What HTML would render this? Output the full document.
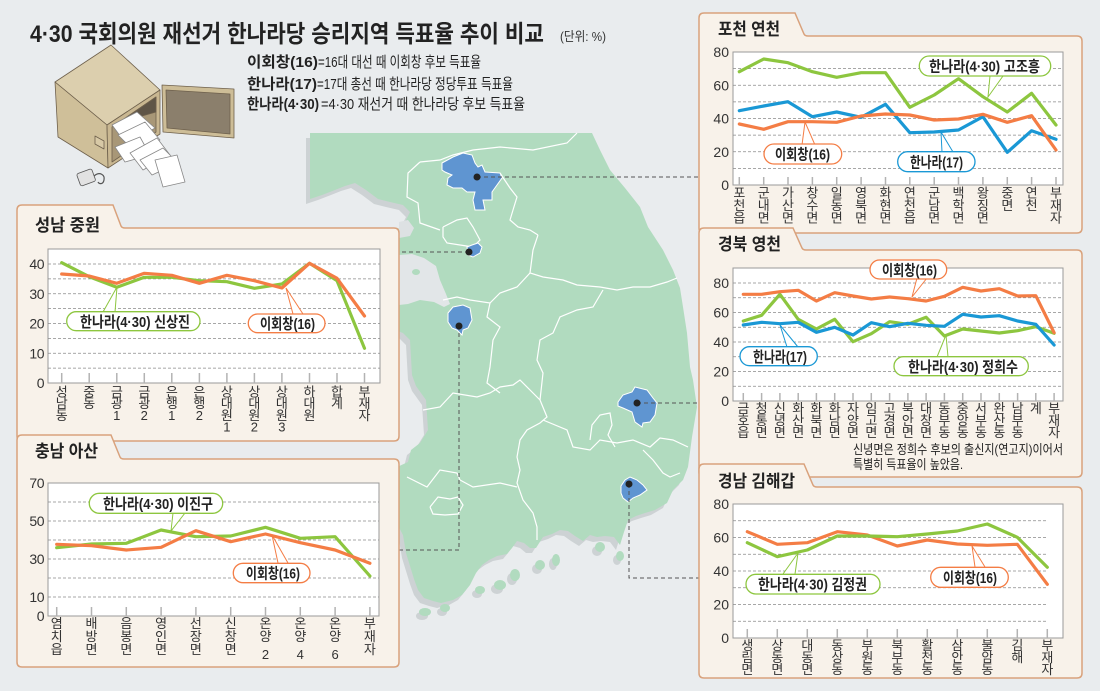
<!DOCTYPE html>
<html><head><meta charset="utf-8">
<style>
html,body{margin:0;padding:0;background:#e9ecee;}
svg{display:block;font-family:"Liberation Sans","Noto Sans CJK KR",sans-serif;}
.grid{stroke:#8a8a8a;stroke-width:0.8;stroke-dasharray:3 2;fill:none}
.tick{stroke:#b3b3b3;stroke-width:1.5}
.yl{font-size:14px;text-anchor:end;fill:#333}
.xl{font-size:13px;text-anchor:middle;fill:#333}
.pt{font-size:15px;font-weight:bold;fill:#222}
.ttl{font-size:17px;font-weight:bold;fill:#222}
.g{stroke:#8dc63f;stroke-width:3.2;fill:none;stroke-linejoin:round;stroke-linecap:round}
.o{stroke:#f47d45;stroke-width:3.2;fill:none;stroke-linejoin:round;stroke-linecap:round}
.b{stroke:#1a98d5;stroke-width:3.2;fill:none;stroke-linejoin:round;stroke-linecap:round}
.pan{fill:#f8f2ea;stroke:#d9a27c;stroke-width:1.5}
.plot{fill:#fff;stroke:#9a9a9a;stroke-width:1}
.wl{stroke:#fff;stroke-width:1.2;fill:none}
.lead{stroke:#555;stroke-width:1;stroke-dasharray:4 3;fill:none}
</style></head>
<body>
<svg width="1100" height="691" viewBox="0 0 1100 691" xmlns="http://www.w3.org/2000/svg">
<rect x="0" y="0" width="1100" height="691" fill="#e9ecee"/>

<!-- ===== MAP ===== -->
<g>
<path transform="translate(-4,5)" fill="#cdd2d4" d="M310,133 L592,133 L600,150 L610,170 L625,188 L640,207 L648,227 L663,250 L673,270 L680,288 L683,307 L687,333 L690,367 L693,380 L697,407 L694,425 L692,437 L688,467 L683,480 L673,490 L667,503 L655,510 L645,513 L636,516 L628,520 L624,532 L620,545 L614,537 L605,536 L597,537 L590,535 L583,541 L575,536 L568,531 L560,530 L552,534 L543,537 L536,548 L530,548 L524,543 L517,541 L512,548 L507,554 L497,556 L489,560 L482,565 L476,573 L470,585 L462,595 L453,600 L441,603 L433,601 L424,598 L418,590 L414,579 L410,566 L406,553 L403,535 L395,520 L395,468 L408,462 L411,450 L420,443 L428,430 L426,400 L416,386 L412,375 L410,340 L403,333 L395,330 L395,232 L405,222 L410,212 L403,205 L390,202 L378,199 L366,190 L355,183 L345,186 L335,190 L322,195 L310,199 Z"/>
<g fill="#cdd2d4" transform="translate(-3,4)">
<ellipse cx="445" cy="608" rx="5" ry="4"/><ellipse cx="425" cy="612" rx="6" ry="4"/>
<ellipse cx="480" cy="590" rx="5" ry="4"/><ellipse cx="500" cy="585" rx="6" ry="5"/>
<ellipse cx="515" cy="575" rx="5" ry="6"/><ellipse cx="540" cy="565" rx="5" ry="5"/>
<ellipse cx="556" cy="560" rx="4" ry="6"/><ellipse cx="600" cy="547" rx="5" ry="5"/>
<ellipse cx="620" cy="556" rx="4" ry="5"/>
</g>
<path fill="#b1dbbf" d="M310,133 L592,133 L600,150 L610,170 L625,188 L640,207 L648,227 L663,250 L673,270 L680,288 L683,307 L687,333 L690,367 L693,380 L697,407 L694,425 L692,437 L688,467 L683,480 L673,490 L667,503 L655,510 L645,513 L636,516 L628,520 L624,532 L620,545 L614,537 L605,536 L597,537 L590,535 L583,541 L575,536 L568,531 L560,530 L552,534 L543,537 L536,548 L530,548 L524,543 L517,541 L512,548 L507,554 L497,556 L489,560 L482,565 L476,573 L470,585 L462,595 L453,600 L441,603 L433,601 L424,598 L418,590 L414,579 L410,566 L406,553 L403,535 L395,520 L395,468 L408,462 L411,450 L420,443 L428,430 L426,400 L416,386 L412,375 L410,340 L403,333 L395,330 L395,232 L405,222 L410,212 L403,205 L390,202 L378,199 L366,190 L355,183 L345,186 L335,190 L322,195 L310,199 Z"/>
<g fill="#b1dbbf">
<ellipse cx="445" cy="608" rx="5" ry="4"/><ellipse cx="425" cy="612" rx="6" ry="4"/>
<ellipse cx="480" cy="590" rx="5" ry="4"/><ellipse cx="500" cy="585" rx="6" ry="5"/>
<ellipse cx="515" cy="575" rx="5" ry="6"/><ellipse cx="540" cy="565" rx="5" ry="5"/>
<ellipse cx="556" cy="560" rx="4" ry="6"/><ellipse cx="600" cy="547" rx="5" ry="5"/>
<ellipse cx="620" cy="556" rx="4" ry="5"/>
</g>
<path fill="#e2e6e8" d="M399,255 L412,254 L424,258 L436,266 L440,280 L446,294 L450,304 L444,307 L434,302 L420,300 L408,304 L399,305 Z"/>
<ellipse cx="416" cy="272" rx="4" ry="3" fill="#b1dbbf"/>
<path fill="#dde1e3" d="M399,222 L408,220 L414,228 L410,236 L399,238 Z"/>
<polyline class="wl" points="420,162 440,160 453,155 473,150 500,147 533,150 567,143 577,133"/>
<polyline class="wl" points="420,162 408,173 407,197 418,203 420,223 440,230"/>
<polyline class="wl" points="500,173 510,188 517,197 513,210 510,220 518,227 530,230 538,235"/>
<polyline class="wl" points="538,235 533,250 530,273 543,277 563,280 577,285 600,287 617,290 633,287 650,287 667,282 677,278"/>
<polyline class="wl" points="530,273 517,287 500,293 490,303 470,300 457,297 443,300"/>
<polyline class="wl" points="603,290 593,307 577,310 560,317 553,333 540,340 537,360 543,373 540,400"/>
<polyline class="wl" points="490,303 487,317 500,327 493,340 490,367 487,383 500,393"/>
<polyline class="wl" points="443,227 457,220 467,218 473,227 480,240 473,247 460,245 447,243 443,237 443,227"/>
<polyline class="wl" points="423,410 440,407 453,393 477,397 490,393 500,387 513,385 520,380 540,400"/>
<polyline class="wl" points="540,400 547,417 540,423 527,430 520,440 517,457 520,470 517,483 523,500 533,513 537,527 537,540"/>
<polyline class="wl" points="407,477 427,487 440,470 457,473 460,480 473,487 500,483 517,487"/>
<polyline class="wl" points="430,507 438,497 450,499 458,497 463,505 458,514 445,515 433,514 430,507"/>
<polyline class="wl" points="543,420 567,430 573,447 590,450 600,440 617,443 633,440 650,447 660,438 673,440 688,447"/>
<polyline class="wl" points="590,440 592,425 600,415 610,413 612,425 608,435 615,447"/>
<polyline class="wl" points="643,450 653,460 663,473 670,477 680,473"/>
<g fill="#5f95d1" stroke="#fff" stroke-width="1">
<path d="M442,163 L453,157 L463,153 L472,155 L475,163 L478,167 L482,165 L485,172 L500,173 L502,178 L497,185 L492,192 L492,200 L483,200 L485,210 L475,210 L473,200 L475,192 L467,192 L462,188 L453,188 L447,185 L448,178 L452,175 L445,172 L442,170 Z"/>
<path d="M467,247 L472,245 L478,243 L482,247 L480,253 L473,257 L468,255 Z"/>
<path d="M448,313 L453,307 L463,305 L470,308 L472,320 L468,328 L463,330 L462,335 L457,330 L452,328 L448,322 Z"/>
<path d="M618,402 L623,395 L632,392 L635,387 L647,390 L653,398 L657,403 L655,415 L650,422 L643,423 L642,427 L635,422 L632,412 L623,408 L618,406 Z"/>
<path d="M621,486 L625,480 L630,477 L637,480 L643,485 L647,490 L640,495 L633,498 L628,502 L623,498 L621,493 Z"/>
</g>
<polyline class="lead" points="477,177 700,177"/>
<polyline class="lead" points="469,252 399,252"/>
<polyline class="lead" points="459,326 459,550 399,550"/>
<polyline class="lead" points="637,403 700,403"/>
<polyline class="lead" points="629,484 629,578 700,578"/>
<g fill="#222">
<circle cx="477" cy="177" r="3.5"/><circle cx="469" cy="252" r="3.5"/><circle cx="459" cy="326" r="3.5"/>
<circle cx="637" cy="403" r="3.5"/><circle cx="629" cy="484" r="3.5"/>
</g>
</g>

<!-- ===== TITLE & LEGEND ===== -->
<text x="30" y="42" font-size="24" font-weight="bold" fill="#222" textLength="514" lengthAdjust="spacingAndGlyphs">4·30 국회의원 재선거 한나라당 승리지역 득표율 추이 비교</text>
<text x="560" y="41" font-size="13" fill="#333" textLength="46" lengthAdjust="spacingAndGlyphs">(단위: %)</text>
<text x="247" y="67" font-size="15" font-weight="bold" fill="#222" textLength="71" lengthAdjust="spacingAndGlyphs">이회창(16)</text>
<text x="318" y="67" font-size="15" fill="#222" textLength="163" lengthAdjust="spacingAndGlyphs">=16대 대선 때 이회창 후보 득표율</text>
<text x="247" y="89" font-size="15" font-weight="bold" fill="#222" textLength="70" lengthAdjust="spacingAndGlyphs">한나라(17)</text>
<text x="317" y="89" font-size="15" fill="#222" textLength="196" lengthAdjust="spacingAndGlyphs">=17대 총선 때 한나라당 정당투표 득표율</text>
<text x="247" y="109" font-size="15" font-weight="bold" fill="#222" textLength="72" lengthAdjust="spacingAndGlyphs">한나라(4·30)</text>
<text x="321" y="109" font-size="15" fill="#222" textLength="204" lengthAdjust="spacingAndGlyphs">=4·30 재선거 때 한나라당 후보 득표율</text>

<!-- ===== BALLOT BOX ===== -->
<g stroke="#6e604c" stroke-width="0.8" stroke-linejoin="round">
<polygon points="55,82 111,45 160,90 107,125" fill="#dccfae"/>
<polygon points="55,82 107,125 108,168 58,137" fill="#cfbf99"/>
<polygon points="107,125 160,90 160,134 108,168" fill="#c9b791"/>
<polygon points="112,127 156,97 156,132 112,162" fill="#a89777"/>
<polygon points="120,122 156,97 156,112 135,118" fill="#5f5547"/>
<polygon points="162,85 234,89 234,138 163,132" fill="#cdbd97"/>
<polygon points="166,90 230,94 230,134 167,128" fill="#8b7f6c"/>
<polygon points="95,136 104,141 104,149 95,144" fill="#d8c9a6"/>
<g fill="#fff" stroke="#888">
<polygon points="112,125 137,112 155,128 127,145"/>
<polygon points="118,135 145,122 160,140 133,150"/>
<polygon points="115,147 140,137 150,155 125,162"/>
<polygon points="130,153 157,138 170,155 143,170"/>
<polygon points="140,160 163,148 178,163 152,175"/>
<polygon points="155,160 177,155 185,182 163,187"/>
</g>
<rect x="78" y="171" width="16" height="13" rx="2" fill="#e2e2e2" stroke="#555" transform="rotate(-20 86 177)"/>
<path d="M94,176 C100,171 105,175 104,180 C103,185 99,184 98,182" fill="none" stroke="#555" stroke-width="1.2"/>
</g>

<!-- ===== PANEL: 포천 연천 ===== -->
<path class="pan" d="M699,18 Q699,13 704,13 L795,13 L804,34 Q805,36 808,36 L1077,36 Q1082,36 1082,41 L1082,228 Q1082,233 1077,233 L704,233 Q699,233 699,228 Z"/>
<text class="ttl" x="718" y="35" textLength="62" lengthAdjust="spacingAndGlyphs">포천 연천</text>
<rect class="plot" x="733" y="52" width="330" height="133"/>
<g class="grid">
<line x1="733" y1="68.6" x2="1063" y2="68.6"/><line x1="733" y1="85.25" x2="1063" y2="85.25"/>
<line x1="733" y1="101.9" x2="1063" y2="101.9"/><line x1="733" y1="118.5" x2="1063" y2="118.5"/>
<line x1="733" y1="135.1" x2="1063" y2="135.1"/><line x1="733" y1="151.75" x2="1063" y2="151.75"/>
<line x1="733" y1="168.4" x2="1063" y2="168.4"/>
</g>
<g class="tick">
<line x1="739.3" y1="177" x2="739.3" y2="185"/><line x1="763.7" y1="177" x2="763.7" y2="185"/><line x1="788" y1="177" x2="788" y2="185"/><line x1="812.4" y1="177" x2="812.4" y2="185"/><line x1="836.7" y1="177" x2="836.7" y2="185"/><line x1="861.1" y1="177" x2="861.1" y2="185"/><line x1="885.5" y1="177" x2="885.5" y2="185"/><line x1="909.8" y1="177" x2="909.8" y2="185"/><line x1="934.2" y1="177" x2="934.2" y2="185"/><line x1="958.5" y1="177" x2="958.5" y2="185"/><line x1="982.9" y1="177" x2="982.9" y2="185"/><line x1="1007.3" y1="177" x2="1007.3" y2="185"/><line x1="1031.6" y1="177" x2="1031.6" y2="185"/><line x1="1056" y1="177" x2="1056" y2="185"/>
</g>
<text class="yl" x="729" y="57">80</text><text class="yl" x="729" y="90.3">60</text><text class="yl" x="729" y="123.5">40</text><text class="yl" x="729" y="156.8">20</text><text class="yl" x="729" y="190">0</text>
<polyline class="g" points="739.3,71.7 763.7,59.0 788.0,62.7 812.4,71.7 836.7,77.3 861.1,72.7 885.5,72.7 909.8,107.3 934.2,95.0 958.5,78.7 982.9,96.7 1007.3,112.0 1031.6,93.3 1056.0,125.0"/>
<polyline class="b" points="739.3,110.7 763.7,106.0 788.0,101.7 812.4,116.7 836.7,112.0 861.1,117.3 885.5,104.3 909.8,132.7 934.2,132.0 958.5,130.0 982.9,116.7 1007.3,152.3 1031.6,130.7 1056.0,139.3"/>
<polyline class="o" points="739.3,124.0 763.7,129.3 788.0,121.7 812.4,121.7 836.7,122.3 861.1,116.0 885.5,114.0 909.8,115.0 934.2,120.0 958.5,119.0 982.9,114.3 1007.3,122.3 1031.6,115.7 1056.0,150.0"/>
<g class="xl">
<text><tspan x="739.3" y="197.5">포</tspan><tspan x="739.3" y="210">천</tspan><tspan x="739.3" y="222.5">읍</tspan></text>
<text><tspan x="763.7" y="197.5">군</tspan><tspan x="763.7" y="210">내</tspan><tspan x="763.7" y="222.5">면</tspan></text>
<text><tspan x="788" y="197.5">가</tspan><tspan x="788" y="210">산</tspan><tspan x="788" y="222.5">면</tspan></text>
<text><tspan x="812.4" y="197.5">창</tspan><tspan x="812.4" y="210">수</tspan><tspan x="812.4" y="222.5">면</tspan></text>
<text><tspan x="836.7" y="197.5">일</tspan><tspan x="836.7" y="210">동</tspan><tspan x="836.7" y="222.5">면</tspan></text>
<text><tspan x="861.1" y="197.5">영</tspan><tspan x="861.1" y="210">북</tspan><tspan x="861.1" y="222.5">면</tspan></text>
<text><tspan x="885.5" y="197.5">화</tspan><tspan x="885.5" y="210">현</tspan><tspan x="885.5" y="222.5">면</tspan></text>
<text><tspan x="909.8" y="197.5">연</tspan><tspan x="909.8" y="210">천</tspan><tspan x="909.8" y="222.5">읍</tspan></text>
<text><tspan x="934.2" y="197.5">군</tspan><tspan x="934.2" y="210">남</tspan><tspan x="934.2" y="222.5">면</tspan></text>
<text><tspan x="958.5" y="197.5">백</tspan><tspan x="958.5" y="210">학</tspan><tspan x="958.5" y="222.5">면</tspan></text>
<text><tspan x="982.9" y="197.5">왕</tspan><tspan x="982.9" y="210">징</tspan><tspan x="982.9" y="222.5">면</tspan></text>
<text><tspan x="1007.3" y="197.5">중</tspan><tspan x="1007.3" y="210">면</tspan></text>
<text><tspan x="1031.6" y="197.5">연</tspan><tspan x="1031.6" y="210">천</tspan></text>
<text><tspan x="1056" y="197.5">부</tspan><tspan x="1056" y="210">재</tspan><tspan x="1056" y="222.5">자</tspan></text>
</g>
<polyline points="990,76 988,97 1003,76" fill="#fff" stroke="#8dc63f" stroke-width="1"/>
<polyline points="802,145 805,122 815,145" fill="#fff" stroke="#f47d45" stroke-width="1"/>
<polyline points="942,152 941,132 953,152" fill="#fff" stroke="#1a98d5" stroke-width="1"/>
<rect x="919.3" y="56" width="131.4" height="20" rx="10" fill="#fff" stroke="#8dc63f" stroke-width="1.3"/>
<text class="pt" x="929" y="71.5" textLength="111" lengthAdjust="spacingAndGlyphs">한나라(4·30) 고조흥</text>
<rect x="764" y="144" width="77.7" height="20" rx="10" fill="#fff" stroke="#f47d45" stroke-width="1.3"/>
<text class="pt" x="775" y="159.5" textLength="55" lengthAdjust="spacingAndGlyphs">이회창(16)</text>
<rect x="897.7" y="151.7" width="77.3" height="20" rx="10" fill="#fff" stroke="#1a98d5" stroke-width="1.3"/>
<text class="pt" x="910" y="167.3" textLength="53" lengthAdjust="spacingAndGlyphs">한나라(17)</text>

<!-- ===== PANEL: 경북 영천 ===== -->
<path class="pan" d="M699,233 Q699,228 704,228 L793,228 L802,248 Q803,250 806,250 L1077,250 Q1082,250 1082,255 L1082,472 Q1082,477 1077,477 L704,477 Q699,477 699,472 Z"/>
<text class="ttl" x="718" y="250" textLength="63" lengthAdjust="spacingAndGlyphs">경북 영천</text>
<rect class="plot" x="733" y="268" width="330" height="133"/>
<g class="grid">
<line x1="733" y1="283" x2="1063" y2="283"/><line x1="733" y1="297.75" x2="1063" y2="297.75"/>
<line x1="733" y1="312.5" x2="1063" y2="312.5"/><line x1="733" y1="327.25" x2="1063" y2="327.25"/>
<line x1="733" y1="342" x2="1063" y2="342"/><line x1="733" y1="356.75" x2="1063" y2="356.75"/>
<line x1="733" y1="371.5" x2="1063" y2="371.5"/><line x1="733" y1="386.25" x2="1063" y2="386.25"/>
</g>
<g class="tick">
<line x1="743.3" y1="393" x2="743.3" y2="401"/><line x1="761.6" y1="393" x2="761.6" y2="401"/><line x1="779.9" y1="393" x2="779.9" y2="401"/><line x1="798.2" y1="393" x2="798.2" y2="401"/><line x1="816.4" y1="393" x2="816.4" y2="401"/><line x1="834.7" y1="393" x2="834.7" y2="401"/><line x1="853" y1="393" x2="853" y2="401"/><line x1="871.3" y1="393" x2="871.3" y2="401"/><line x1="889.6" y1="393" x2="889.6" y2="401"/><line x1="907.9" y1="393" x2="907.9" y2="401"/><line x1="926.1" y1="393" x2="926.1" y2="401"/><line x1="944.4" y1="393" x2="944.4" y2="401"/><line x1="962.7" y1="393" x2="962.7" y2="401"/><line x1="981" y1="393" x2="981" y2="401"/><line x1="999.3" y1="393" x2="999.3" y2="401"/><line x1="1017.6" y1="393" x2="1017.6" y2="401"/><line x1="1035.8" y1="393" x2="1035.8" y2="401"/><line x1="1054.1" y1="393" x2="1054.1" y2="401"/>
</g>
<text class="yl" x="729" y="288">80</text><text class="yl" x="729" y="317.5">60</text><text class="yl" x="729" y="347">40</text><text class="yl" x="729" y="376.5">20</text><text class="yl" x="729" y="406">0</text>
<polyline class="g" points="743.3,321.0 761.6,315.3 779.9,294.3 798.2,319.3 816.4,329.0 834.7,319.3 853.0,341.7 871.3,333.7 889.6,321.7 907.9,324.3 926.1,317.3 944.4,336.0 962.7,329.0 981.0,331.0 999.3,333.0 1017.6,330.7 1035.8,326.7 1054.1,333.3"/>
<polyline class="b" points="743.3,325.0 761.6,322.3 779.9,323.7 798.2,322.3 816.4,332.3 834.7,327.3 853.0,335.0 871.3,322.7 889.6,326.7 907.9,323.3 926.1,325.3 944.4,326.3 962.7,314.3 981.0,317.0 999.3,315.7 1017.6,321.0 1035.8,324.3 1054.1,345.0"/>
<polyline class="o" points="743.3,294.3 761.6,294.3 779.9,291.7 798.2,290.3 816.4,301.0 834.7,292.7 853.0,296.0 871.3,299.0 889.6,297.0 907.9,298.7 926.1,301.0 944.4,296.3 962.7,287.3 981.0,291.0 999.3,288.7 1017.6,296.0 1035.8,295.7 1054.1,332.7"/>
<g class="xl">
<text><tspan x="743.3" y="413">금</tspan><tspan x="743.3" y="425">호</tspan><tspan x="743.3" y="437">읍</tspan></text>
<text><tspan x="761.6" y="413">청</tspan><tspan x="761.6" y="425">통</tspan><tspan x="761.6" y="437">면</tspan></text>
<text><tspan x="779.9" y="413">신</tspan><tspan x="779.9" y="425">녕</tspan><tspan x="779.9" y="437">면</tspan></text>
<text><tspan x="798.2" y="413">화</tspan><tspan x="798.2" y="425">산</tspan><tspan x="798.2" y="437">면</tspan></text>
<text><tspan x="816.4" y="413">화</tspan><tspan x="816.4" y="425">북</tspan><tspan x="816.4" y="437">면</tspan></text>
<text><tspan x="834.7" y="413">화</tspan><tspan x="834.7" y="425">남</tspan><tspan x="834.7" y="437">면</tspan></text>
<text><tspan x="853" y="413">자</tspan><tspan x="853" y="425">양</tspan><tspan x="853" y="437">면</tspan></text>
<text><tspan x="871.3" y="413">임</tspan><tspan x="871.3" y="425">고</tspan><tspan x="871.3" y="437">면</tspan></text>
<text><tspan x="889.6" y="413">고</tspan><tspan x="889.6" y="425">경</tspan><tspan x="889.6" y="437">면</tspan></text>
<text><tspan x="907.9" y="413">북</tspan><tspan x="907.9" y="425">안</tspan><tspan x="907.9" y="437">면</tspan></text>
<text><tspan x="926.1" y="413">대</tspan><tspan x="926.1" y="425">창</tspan><tspan x="926.1" y="437">면</tspan></text>
<text><tspan x="944.4" y="413">동</tspan><tspan x="944.4" y="425">부</tspan><tspan x="944.4" y="437">동</tspan></text>
<text><tspan x="962.7" y="413">중</tspan><tspan x="962.7" y="425">앙</tspan><tspan x="962.7" y="437">동</tspan></text>
<text><tspan x="981" y="413">서</tspan><tspan x="981" y="425">부</tspan><tspan x="981" y="437">동</tspan></text>
<text><tspan x="999.3" y="413">완</tspan><tspan x="999.3" y="425">산</tspan><tspan x="999.3" y="437">동</tspan></text>
<text><tspan x="1017.6" y="413">남</tspan><tspan x="1017.6" y="425">부</tspan><tspan x="1017.6" y="437">동</tspan></text>
<text><tspan x="1035.8" y="413">계</tspan></text>
<text><tspan x="1054.1" y="413">부</tspan><tspan x="1054.1" y="425">재</tspan><tspan x="1054.1" y="437">자</tspan></text>
</g>
<text x="853" y="454" font-size="13" fill="#222" textLength="210" lengthAdjust="spacingAndGlyphs">신녕면은 정희수 후보의 출신지(연고지)이어서</text>
<text x="853" y="469" font-size="13" fill="#222" textLength="110" lengthAdjust="spacingAndGlyphs">특별히 득표율이 높았음.</text>
<polyline points="917,278 912,297 927,278" fill="#fff" stroke="#f47d45" stroke-width="1"/>
<polyline points="787,347 780,325 798,347" fill="#fff" stroke="#1a98d5" stroke-width="1"/>
<polyline points="937,357 946,335 948,357" fill="#fff" stroke="#8dc63f" stroke-width="1"/>
<rect x="870" y="260" width="76.7" height="19" rx="9.5" fill="#fff" stroke="#f47d45" stroke-width="1.3"/>
<text class="pt" x="882" y="275.3" textLength="55" lengthAdjust="spacingAndGlyphs">이회창(16)</text>
<rect x="740" y="346.7" width="77.3" height="19" rx="9.5" fill="#fff" stroke="#1a98d5" stroke-width="1.3"/>
<text class="pt" x="753" y="361.8" textLength="54" lengthAdjust="spacingAndGlyphs">한나라(17)</text>
<rect x="894" y="356.7" width="134.3" height="19" rx="9.5" fill="#fff" stroke="#8dc63f" stroke-width="1.3"/>
<text class="pt" x="908" y="371.8" textLength="110" lengthAdjust="spacingAndGlyphs">한나라(4·30) 정희수</text>

<!-- ===== PANEL: 경남 김해갑 ===== -->
<path class="pan" d="M699,469 Q699,464 704,464 L804,464 L813,485 Q814,487 817,487 L1077,487 Q1082,487 1082,492 L1082,673 Q1082,678 1077,678 L704,678 Q699,678 699,673 Z"/>
<text class="ttl" x="718" y="487" textLength="77" lengthAdjust="spacingAndGlyphs">경남 김해갑</text>
<rect class="plot" x="733" y="504" width="330" height="134"/>
<g class="grid">
<line x1="733" y1="520.75" x2="1046" y2="520.75"/><line x1="733" y1="537.5" x2="1046" y2="537.5"/>
<line x1="733" y1="554.25" x2="1046" y2="554.25"/><line x1="733" y1="571" x2="1046" y2="571"/>
<line x1="733" y1="587.75" x2="1046" y2="587.75"/><line x1="733" y1="604.5" x2="1046" y2="604.5"/>
<line x1="733" y1="621.25" x2="1046" y2="621.25"/>
</g>
<g class="tick">
<line x1="747.3" y1="629" x2="747.3" y2="638"/><line x1="777.3" y1="629" x2="777.3" y2="638"/><line x1="807.3" y1="629" x2="807.3" y2="638"/><line x1="837.3" y1="629" x2="837.3" y2="638"/><line x1="867.3" y1="629" x2="867.3" y2="638"/><line x1="897.3" y1="629" x2="897.3" y2="638"/><line x1="927.3" y1="629" x2="927.3" y2="638"/><line x1="957.3" y1="629" x2="957.3" y2="638"/><line x1="987.3" y1="629" x2="987.3" y2="638"/><line x1="1017.3" y1="629" x2="1017.3" y2="638"/><line x1="1047.3" y1="629" x2="1047.3" y2="638"/>
</g>
<text class="yl" x="729" y="509">80</text><text class="yl" x="729" y="542.5">60</text><text class="yl" x="729" y="576">40</text><text class="yl" x="729" y="609.5">20</text><text class="yl" x="729" y="643">0</text>
<polyline class="o" points="747.3,531.7 777.3,544.3 807.3,542.7 837.3,531.7 867.3,535.0 897.3,546.0 927.3,540.0 957.3,544.0 987.3,545.3 1017.3,544.3 1047.3,584.3"/>
<polyline class="g" points="747.3,542.7 777.3,556.7 807.3,550.0 837.3,536.0 867.3,536.0 897.3,536.7 927.3,534.0 957.3,531.0 987.3,524.0 1017.3,537.3 1047.3,567.3"/>
<g class="xl">
<text><tspan x="747.3" y="650">생</tspan><tspan x="747.3" y="662">림</tspan><tspan x="747.3" y="674">면</tspan></text>
<text><tspan x="777.3" y="650">상</tspan><tspan x="777.3" y="662">동</tspan><tspan x="777.3" y="674">면</tspan></text>
<text><tspan x="807.3" y="650">대</tspan><tspan x="807.3" y="662">동</tspan><tspan x="807.3" y="674">면</tspan></text>
<text><tspan x="837.3" y="650">동</tspan><tspan x="837.3" y="662">상</tspan><tspan x="837.3" y="674">동</tspan></text>
<text><tspan x="867.3" y="650">부</tspan><tspan x="867.3" y="662">원</tspan><tspan x="867.3" y="674">동</tspan></text>
<text><tspan x="897.3" y="650">북</tspan><tspan x="897.3" y="662">부</tspan><tspan x="897.3" y="674">동</tspan></text>
<text><tspan x="927.3" y="650">활</tspan><tspan x="927.3" y="662">천</tspan><tspan x="927.3" y="674">동</tspan></text>
<text><tspan x="957.3" y="650">삼</tspan><tspan x="957.3" y="662">안</tspan><tspan x="957.3" y="674">동</tspan></text>
<text><tspan x="987.3" y="650">불</tspan><tspan x="987.3" y="662">암</tspan><tspan x="987.3" y="674">동</tspan></text>
<text><tspan x="1017.3" y="650">김</tspan><tspan x="1017.3" y="662">해</tspan></text>
<text><tspan x="1047.3" y="650">부</tspan><tspan x="1047.3" y="662">재</tspan><tspan x="1047.3" y="674">자</tspan></text>
</g>
<polyline points="783,574 798,553 795,574" fill="#fff" stroke="#8dc63f" stroke-width="1"/>
<polyline points="975,567 972,546 985,567" fill="#fff" stroke="#f47d45" stroke-width="1"/>
<rect x="746" y="574.3" width="134" height="19.7" rx="9.8" fill="#fff" stroke="#8dc63f" stroke-width="1.3"/>
<text class="pt" x="758" y="589.7" textLength="109" lengthAdjust="spacingAndGlyphs">한나라(4·30) 김정권</text>
<rect x="930.7" y="567.3" width="77.6" height="20" rx="10" fill="#fff" stroke="#f47d45" stroke-width="1.3"/>
<text class="pt" x="943" y="582.8" textLength="54" lengthAdjust="spacingAndGlyphs">이회창(16)</text>

<!-- ===== PANEL: 성남 중원 ===== -->
<path class="pan" d="M17,210 Q17,205 22,205 L113,205 L121,226 Q122,228 125,228 L394,228 Q399,228 399,233 L399,436 Q399,441 394,441 L22,441 Q17,441 17,436 Z"/>
<text class="ttl" x="35" y="231" textLength="65" lengthAdjust="spacingAndGlyphs">성남 중원</text>
<rect class="plot" x="48" y="249" width="332" height="134"/>
<g class="grid">
<line x1="48" y1="264" x2="380" y2="264"/><line x1="48" y1="278.9" x2="380" y2="278.9"/>
<line x1="48" y1="293.75" x2="380" y2="293.75"/><line x1="48" y1="308.6" x2="380" y2="308.6"/>
<line x1="48" y1="323.5" x2="380" y2="323.5"/><line x1="48" y1="338.4" x2="380" y2="338.4"/>
<line x1="48" y1="353.25" x2="380" y2="353.25"/><line x1="48" y1="368.1" x2="380" y2="368.1"/>
</g>
<g class="tick">
<line x1="61.7" y1="373" x2="61.7" y2="383"/><line x1="89.2" y1="373" x2="89.2" y2="383"/><line x1="116.8" y1="373" x2="116.8" y2="383"/><line x1="144.3" y1="373" x2="144.3" y2="383"/><line x1="171.8" y1="373" x2="171.8" y2="383"/><line x1="199.4" y1="373" x2="199.4" y2="383"/><line x1="226.9" y1="373" x2="226.9" y2="383"/><line x1="254.4" y1="373" x2="254.4" y2="383"/><line x1="281.9" y1="373" x2="281.9" y2="383"/><line x1="309.5" y1="373" x2="309.5" y2="383"/><line x1="337" y1="373" x2="337" y2="383"/><line x1="364.5" y1="373" x2="364.5" y2="383"/>
</g>
<g style="letter-spacing:-0.5px">
<text class="yl" x="44" y="269">40</text><text class="yl" x="44" y="298.8">30</text><text class="yl" x="44" y="328.5">20</text><text class="yl" x="44" y="358.3">10</text><text class="yl" x="44" y="388">0</text>
</g>
<polyline class="g" points="61.7,262.7 89.2,276.7 116.8,287.3 144.3,277.3 171.8,277.3 199.4,280.7 226.9,281.7 254.4,288.3 281.9,284.0 309.5,263.3 337.0,280.7 364.5,348.3"/>
<polyline class="o" points="61.7,274.0 89.2,276.0 116.8,283.3 144.3,273.3 171.8,275.3 199.4,283.3 226.9,275.3 254.4,280.7 281.9,288.0 309.5,263.3 337.0,278.3 364.5,316.0"/>
<g class="xl">
<text><tspan x="61.7" y="396.5">성</tspan><tspan x="61.7" y="408.2">남</tspan><tspan x="61.7" y="419.9">동</tspan></text>
<text><tspan x="89.2" y="396.5">중</tspan><tspan x="89.2" y="408.2">동</tspan></text>
<text><tspan x="116.8" y="396.5">금</tspan><tspan x="116.8" y="408.2">광</tspan><tspan x="116.8" y="419.9">1</tspan></text>
<text><tspan x="144.3" y="396.5">금</tspan><tspan x="144.3" y="408.2">광</tspan><tspan x="144.3" y="419.9">2</tspan></text>
<text><tspan x="171.8" y="396.5">은</tspan><tspan x="171.8" y="408.2">행</tspan><tspan x="171.8" y="419.9">1</tspan></text>
<text><tspan x="199.4" y="396.5">은</tspan><tspan x="199.4" y="408.2">행</tspan><tspan x="199.4" y="419.9">2</tspan></text>
<text><tspan x="226.9" y="396.5">상</tspan><tspan x="226.9" y="408.2">대</tspan><tspan x="226.9" y="419.9">원</tspan><tspan x="226.9" y="431.6">1</tspan></text>
<text><tspan x="254.4" y="396.5">상</tspan><tspan x="254.4" y="408.2">대</tspan><tspan x="254.4" y="419.9">원</tspan><tspan x="254.4" y="431.6">2</tspan></text>
<text><tspan x="281.9" y="396.5">상</tspan><tspan x="281.9" y="408.2">대</tspan><tspan x="281.9" y="419.9">원</tspan><tspan x="281.9" y="431.6">3</tspan></text>
<text><tspan x="309.5" y="396.5">하</tspan><tspan x="309.5" y="408.2">대</tspan><tspan x="309.5" y="419.9">원</tspan></text>
<text><tspan x="337" y="396.5">합</tspan><tspan x="337" y="408.2">계</tspan></text>
<text><tspan x="364.5" y="396.5">부</tspan><tspan x="364.5" y="408.2">재</tspan><tspan x="364.5" y="419.9">자</tspan></text>
</g>
<polyline points="103,312 117,287 115,312" fill="#fff" stroke="#8dc63f" stroke-width="1"/>
<polyline points="293,314 286,288 303,314" fill="#fff" stroke="#f47d45" stroke-width="1"/>
<rect x="66.7" y="311.7" width="133.3" height="19" rx="9.5" fill="#fff" stroke="#8dc63f" stroke-width="1.3"/>
<text class="pt" x="80" y="326.8" textLength="110" lengthAdjust="spacingAndGlyphs">한나라(4·30) 신상진</text>
<rect x="248.3" y="314" width="76.7" height="18.7" rx="9.3" fill="#fff" stroke="#f47d45" stroke-width="1.3"/>
<text class="pt" x="260" y="328.8" textLength="55" lengthAdjust="spacingAndGlyphs">이회창(16)</text>

<!-- ===== PANEL: 충남 아산 ===== -->
<path class="pan" d="M17,440 Q17,435 22,435 L111,435 L120,457 Q121,459 124,459 L394,459 Q399,459 399,464 L399,662 Q399,667 394,667 L22,667 Q17,667 17,662 Z"/>
<text class="ttl" x="35" y="457" textLength="63" lengthAdjust="spacingAndGlyphs">충남 아산</text>
<rect class="plot" x="48" y="483" width="331" height="133"/>
<g class="grid">
<line x1="48" y1="502" x2="379" y2="502"/><line x1="48" y1="521" x2="379" y2="521"/>
<line x1="48" y1="540" x2="379" y2="540"/><line x1="48" y1="559" x2="379" y2="559"/>
<line x1="48" y1="578" x2="379" y2="578"/><line x1="48" y1="597" x2="379" y2="597"/>
</g>
<g class="tick">
<line x1="56.7" y1="607" x2="56.7" y2="616"/><line x1="91.5" y1="607" x2="91.5" y2="616"/><line x1="126.3" y1="607" x2="126.3" y2="616"/><line x1="161.1" y1="607" x2="161.1" y2="616"/><line x1="195.9" y1="607" x2="195.9" y2="616"/><line x1="230.7" y1="607" x2="230.7" y2="616"/><line x1="265.5" y1="607" x2="265.5" y2="616"/><line x1="300.3" y1="607" x2="300.3" y2="616"/><line x1="335.1" y1="607" x2="335.1" y2="616"/><line x1="369.9" y1="607" x2="369.9" y2="616"/>
</g>
<g style="letter-spacing:-0.5px">
<text class="yl" x="44" y="488">70</text><text class="yl" x="44" y="526">50</text><text class="yl" x="44" y="564">30</text><text class="yl" x="44" y="602">10</text><text class="yl" x="44" y="621">0</text>
</g>
<polyline class="g" points="56.7,547.7 91.5,544.0 126.3,543.3 161.1,530.0 195.9,536.7 230.7,536.0 265.5,527.3 300.3,538.3 335.1,536.7 369.9,576.0"/>
<polyline class="o" points="56.7,544.3 91.5,545.7 126.3,550.0 161.1,547.3 195.9,530.7 230.7,541.7 265.5,534.0 300.3,542.7 335.1,550.0 369.9,563.3"/>
<g class="xl">
<text><tspan x="56.7" y="628">염</tspan><tspan x="56.7" y="641">치</tspan><tspan x="56.7" y="654">읍</tspan></text>
<text><tspan x="91.5" y="628">배</tspan><tspan x="91.5" y="641">방</tspan><tspan x="91.5" y="654">면</tspan></text>
<text><tspan x="126.3" y="628">음</tspan><tspan x="126.3" y="641">봉</tspan><tspan x="126.3" y="654">면</tspan></text>
<text><tspan x="161.1" y="628">영</tspan><tspan x="161.1" y="641">인</tspan><tspan x="161.1" y="654">면</tspan></text>
<text><tspan x="195.9" y="628">선</tspan><tspan x="195.9" y="641">장</tspan><tspan x="195.9" y="654">면</tspan></text>
<text><tspan x="230.7" y="628">신</tspan><tspan x="230.7" y="641">창</tspan><tspan x="230.7" y="654">면</tspan></text>
<text><tspan x="265.5" y="628">온</tspan><tspan x="265.5" y="641">양</tspan><tspan x="265.5" y="659">2</tspan></text>
<text><tspan x="300.3" y="628">온</tspan><tspan x="300.3" y="641">양</tspan><tspan x="300.3" y="659">4</tspan></text>
<text><tspan x="335.1" y="628">온</tspan><tspan x="335.1" y="641">양</tspan><tspan x="335.1" y="659">6</tspan></text>
<text><tspan x="369.9" y="628">부</tspan><tspan x="369.9" y="641">재</tspan><tspan x="369.9" y="654">자</tspan></text>
</g>
<polyline points="173,513 171,531 185,513" fill="#fff" stroke="#8dc63f" stroke-width="1"/>
<polyline points="278,563 272,535 288,563" fill="#fff" stroke="#f47d45" stroke-width="1"/>
<rect x="89.3" y="493.3" width="133.4" height="20" rx="10" fill="#fff" stroke="#8dc63f" stroke-width="1.3"/>
<text class="pt" x="103" y="508.8" textLength="110" lengthAdjust="spacingAndGlyphs">한나라(4·30) 이진구</text>
<rect x="233.3" y="563.3" width="76.7" height="19.4" rx="9.7" fill="#fff" stroke="#f47d45" stroke-width="1.3"/>
<text class="pt" x="246" y="578.6" textLength="54" lengthAdjust="spacingAndGlyphs">이회창(16)</text>

</svg>
</body></html>
